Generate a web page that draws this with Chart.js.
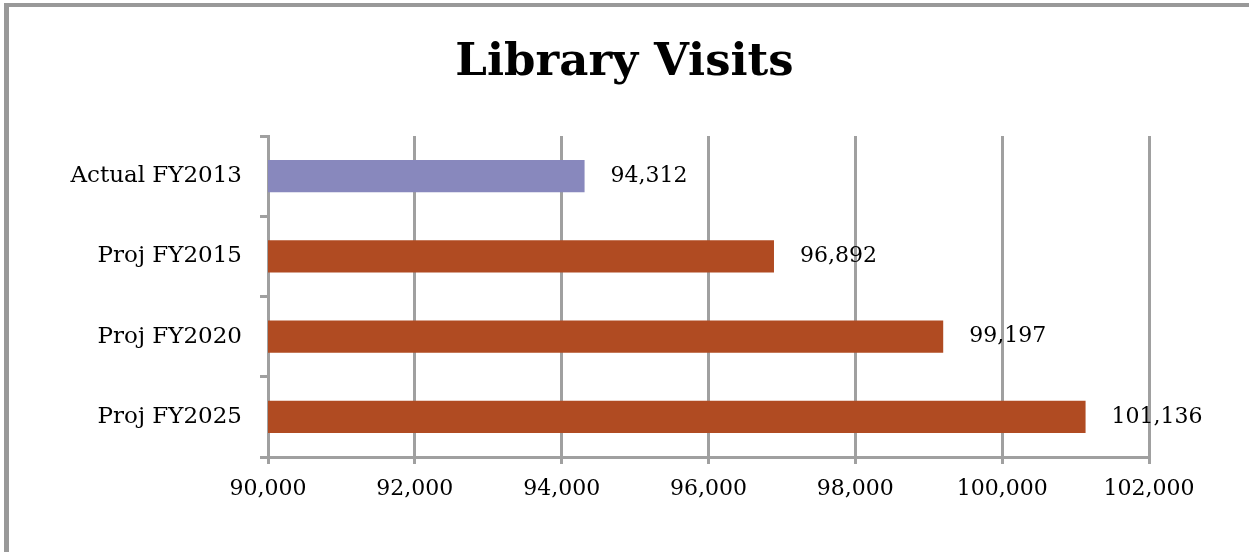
<!DOCTYPE html>
<html>
<head>
<meta charset="utf-8">
<script src="https://cdn.jsdelivr.net/npm/chart.js@4"></script>
<style>
  html, body { margin: 0; padding: 0; background: #fff; }
  #wrap { position: relative; width: 1249px; height: 552px; overflow: hidden; }
  #frame { position: absolute; left: 4px; top: 3px; width: 1300px; height: 600px;
           border-top: 4px solid #999; border-left: 5px solid #999; }
  canvas { position: absolute; left: 0; top: 0; }
</style>
</head>
<body>
<div id="wrap">
  <div id="frame"></div>
  <canvas id="chart" width="1249" height="552"></canvas>
</div>
<script>
// Data
const categories = ["Actual FY2013", "Proj FY2015", "Proj FY2020", "Proj FY2025"];
const visits = [94312, 96892, 99197, 101136];
const barColors = ["#8888bd", "#b04b22", "#b04b22", "#b04b22"];
const xTicks = [90000, 92000, 94000, 96000, 98000, 100000, 102000];

const serif = "'DejaVu Serif', serif";
const gridGray = "#a0a0a0";

// value labels to the right of each bar
const valueLabels = {
  id: "valueLabels",
  afterDatasetsDraw(chart) {
    const ctx = chart.ctx;
    const meta = chart.getDatasetMeta(0);
    ctx.save();
    ctx.font = "22px " + serif;
    ctx.fillStyle = "#000";
    ctx.textBaseline = "middle";
    meta.data.forEach((bar, i) => {
      ctx.fillText(visits[i].toLocaleString("en-US"), bar.x + 26, bar.y);
    });
    ctx.restore();
  }
};

new Chart(document.getElementById("chart"), {
  type: "bar",
  data: {
    labels: categories,
    datasets: [{
      data: visits,
      backgroundColor: barColors,
      barPercentage: 0.4,
      categoryPercentage: 1
    }]
  },
  options: {
    indexAxis: "y",
    responsive: false,
    animation: false,
    layout: { padding: 0 },
    plugins: {
      legend: { display: false },
      tooltip: { enabled: false },
      title: {
        display: true,
        text: "Library Visits",
        color: "#000",
        font: { family: serif, size: 45, weight: "bold" },
        padding: { top: 36, bottom: 46 }
      }
    },
    scales: {
      x: {
        min: 90000,
        max: 102000,
        afterBuildTicks(scale) { scale.ticks = xTicks.map(v => ({ value: v })); },
        afterFit(scale) { scale.height = 95; },
        grid: { color: gridGray, lineWidth: 3, tickLength: 7 },
        border: { color: gridGray, width: 3 },
        ticks: {
          color: "#000",
          padding: 12,
          font: { family: serif, size: 22 },
          callback: v => v.toLocaleString("en-US")
        }
      },
      y: {
        afterFit(scale) { scale.width = 268; },
        grid: { offset: true, drawOnChartArea: false, color: gridGray, lineWidth: 3, tickLength: 8 },
        border: { color: gridGray, width: 3 },
        ticks: {
          color: "#000",
          padding: 18,
          font: { family: serif, size: 23 }
        }
      },
      // empty space on the right so the title stays centred on the page
      spacer: {
        type: "category",
        position: "right",
        afterFit(scale) { scale.width = 100; },
        grid: { display: false },
        border: { display: false },
        ticks: { display: false }
      }
    }
  },
  plugins: [valueLabels]
});
</script>
</body>
</html>
